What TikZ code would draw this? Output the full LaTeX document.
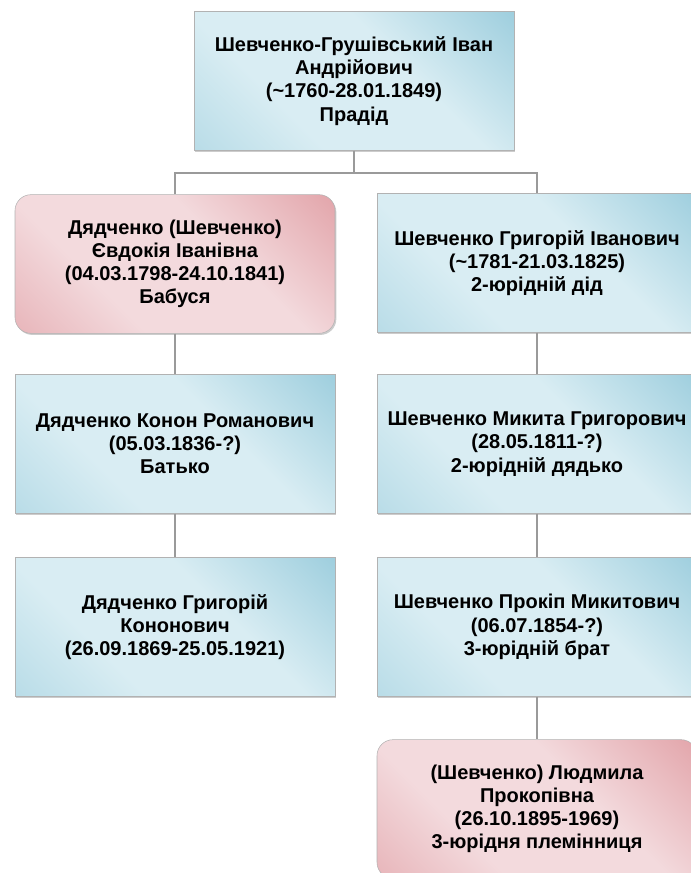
\documentclass[tikz,border=0pt]{standalone}
\usepackage{fontspec}
\setmainfont{Liberation Sans}
\usepackage{tikz}
\usetikzlibrary{positioning,shadows}
\usepackage{xcolor}
\definecolor{tealdark}{HTML}{7DBDD2}
\definecolor{teallight}{HTML}{D9EDF3}
\definecolor{rosedark}{HTML}{D9868D}
\definecolor{roselight}{HTML}{F3DADD}
\definecolor{linegray}{HTML}{9A9A9A}
\pgfdeclarehorizontalshading{blueshade}{100bp}{color(0bp)=(tealdark!60!teallight); color(35bp)=(teallight); color(60bp)=(teallight); color(100bp)=(tealdark)}
\pgfdeclarehorizontalshading{roseshade}{100bp}{color(0bp)=(rosedark!75!roselight); color(35bp)=(roselight); color(60bp)=(roselight); color(100bp)=(rosedark)}

\begin{document}
\begin{tikzpicture}[x=0.75pt, y=-0.75pt, every node/.style={font=\fontsize{15}{17.4}\selectfont\bfseries}]
\tikzstyle{person}=[draw=gray!60, shading=blueshade, shading angle=45, minimum width=240pt, minimum height=104pt, align=center, inner sep=1pt, drop shadow={shadow xshift=1pt, shadow yshift=-1.2pt, opacity=0.4}]
\tikzstyle{woman}=[person, shading=roseshade, rounded corners=12pt]
\tikzstyle{link}=[draw=linegray, line width=0.8pt]
\useasboundingbox (0,0) rectangle (691,873);
\node[person] (pradid) at (354,81) {Шевченко-Грушівський Іван\\Андрійович\\(\textasciitilde1760-28.01.1849)\\Прадід};
\node[woman] (babusia) at (175,264) {Дядченко (Шевченко)\\Євдокія Іванівна\\(04.03.1798-24.10.1841)\\Бабуся};
\node[person] (did) at (537,263) {Шевченко Григорій Іванович\\(\textasciitilde1781-21.03.1825)\\2-юрідній дід};
\node[person] (batko) at (175,444) {Дядченко Конон Романович\\(05.03.1836-?)\\Батько};
\node[person] (diadko) at (537,444) {Шевченко Микита Григорович\\(28.05.1811-?)\\2-юрідній дядько};
\node[person] (hryhorii) at (175,627) {Дядченко Григорій\\Кононович\\(26.09.1869-25.05.1921)};
\node[person] (brat) at (537,627) {Шевченко Прокіп Микитович\\(06.07.1854-?)\\3-юрідній брат};
\node[woman] (pleminnytsia) at (537,809) {(Шевченко) Людмила\\Прокопівна\\(26.10.1895-1969)\\3-юрідня племінниця};
\coordinate (bus) at (354,173);
\draw[link] (pradid) -- (bus);
\draw[link] (babusia.north) |- (bus) -| (did.north);
\draw[link] (babusia) -- (batko);
\draw[link] (batko) -- (hryhorii);
\draw[link] (did) -- (diadko);
\draw[link] (diadko) -- (brat);
\draw[link] (brat) -- (pleminnytsia);
\end{tikzpicture}
\end{document}
